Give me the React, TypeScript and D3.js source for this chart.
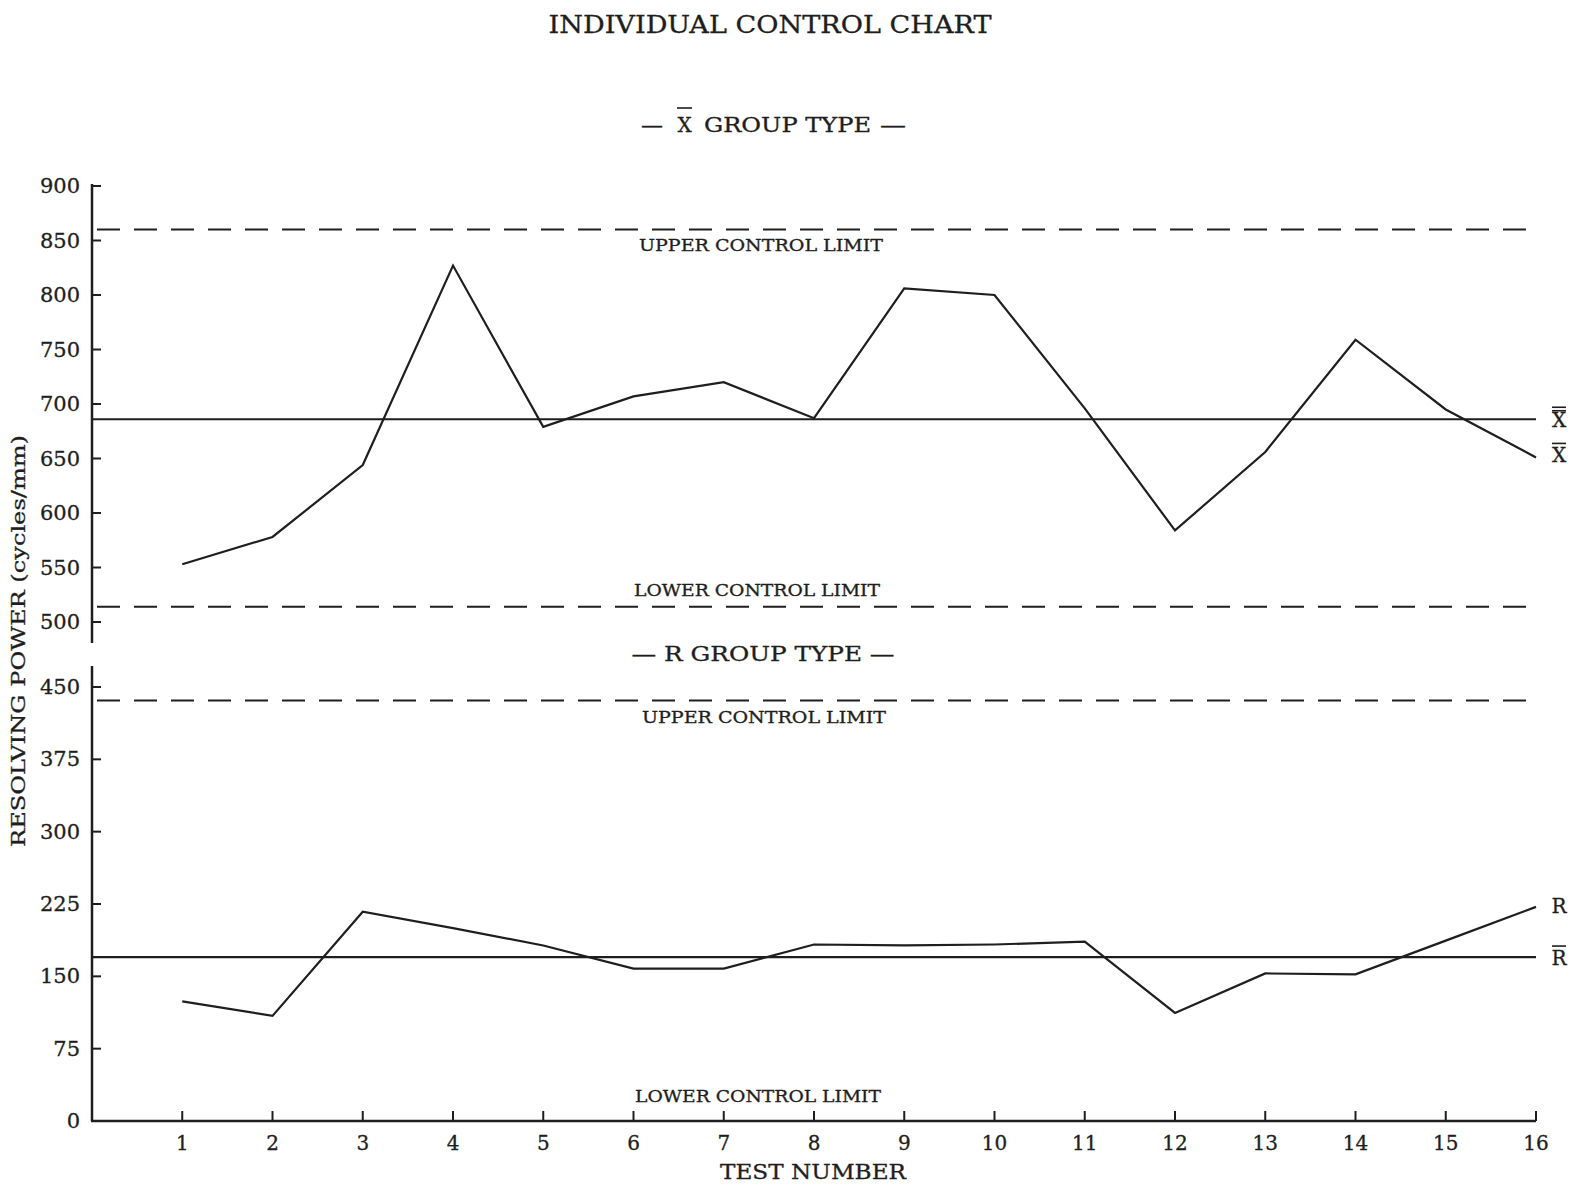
import React from "react";
import * as d3 from "d3";

const tests = [1, 2, 3, 4, 5, 6, 7, 8, 9, 10, 11, 12, 13, 14, 15, 16];
const xbarValues = [553, 578, 644, 827, 679, 707, 720, 687, 806, 800, 696, 584, 656, 759, 695, 651];
const rangeValues = [124, 109, 217, 200, 182, 158, 158, 183, 182, 183, 186, 112, 153, 152, 187, 222];
const xTickValues = [500, 550, 600, 650, 700, 750, 800, 850, 900];
const rTickValues = [0, 75, 150, 225, 300, 375, 450];
const xLimits = { ucl: 860, center: 686, lcl: 514 };
const rLimits = { ucl: 436, center: 170, lcl: 0 };

const FONT = "'DejaVu Serif', 'Liberation Serif', serif";
const INK = "#1e1e1e";

export default function App() {
  const W = 1576;
  const H = 1185;
  const x = d3.scaleLinear().domain([0, 16]).range([92, 1536]);
  const yTop = d3.scaleLinear().domain([500, 900]).range([622, 186]);
  const yBot = d3.scaleLinear().domain([0, 450]).range([1121, 687]);

  const lineTop = d3
    .line<number>()
    .x((_, i) => x(tests[i]))
    .y((d) => yTop(d));
  const lineBot = d3
    .line<number>()
    .x((_, i) => x(tests[i]))
    .y((d) => yBot(d));

  const axisX = x(0);
  const endX = x(16);
  const dash = "23 14";
  const txt = { fill: INK, stroke: INK, strokeWidth: 0.3 };
  const labX = 1559;

  const bar = (x1: number, x2: number, y: number, key: string) => (
    <line key={key} x1={x1} x2={x2} y1={y} y2={y} stroke={INK} strokeWidth={1.6} />
  );

  const yXbb = yTop(xLimits.center) + 8;
  const yXb = yTop(xbarValues[15]) + 5;
  const yR = yBot(rangeValues[15]) + 6;
  const yRb = yBot(rLimits.center) + 8;

  return (
    <svg
      width={W}
      height={H}
      style={{ position: "absolute", left: 0, top: 0, background: "#fff" }}
      fontFamily={FONT}
    >
      <rect x={0} y={0} width={W} height={H} fill="#fff" />
      {/* Titles */}
      <text x={770} y={33} fontSize={24} textAnchor="middle" {...txt} textLength={443} lengthAdjust="spacingAndGlyphs">
        INDIVIDUAL CONTROL CHART
      </text>
      <text x={641} y={132} fontSize={20} {...txt} textLength={22} lengthAdjust="spacingAndGlyphs">—</text>
      <text x={684.5} y={132} fontSize={20} textAnchor="middle" {...txt}>X</text>
      {bar(677, 692, 108, "sb")}
      <text x={704} y={132} fontSize={20} {...txt} textLength={167} lengthAdjust="spacingAndGlyphs">
        GROUP TYPE
      </text>
      <text x={880} y={132} fontSize={20} {...txt} textLength={26} lengthAdjust="spacingAndGlyphs">—</text>

      <text x={763} y={661} fontSize={20} textAnchor="middle" {...txt} textLength={263} lengthAdjust="spacingAndGlyphs">
        — R GROUP TYPE —
      </text>

      {/* Y axis label */}
      <text
        transform={`translate(25,641) rotate(-90)`}
        fontSize={19}
        textAnchor="middle"
        {...txt}
        textLength={412}
        lengthAdjust="spacingAndGlyphs"
      >
        RESOLVING POWER (cycles/mm)
      </text>

      {/* Top panel axis */}
      <line x1={axisX} x2={axisX} y1={184} y2={643} stroke={INK} strokeWidth={2.5} />
      {xTickValues.map((v) => (
        <g key={"tt" + v}>
          <line x1={axisX} x2={axisX + 9} y1={yTop(v)} y2={yTop(v)} stroke={INK} strokeWidth={2} />
          <text x={80} y={yTop(v) + 7} fontSize={21} textAnchor="end" {...txt}>
            {v}
          </text>
        </g>
      ))}

      {/* Bottom panel axis */}
      <line x1={axisX} x2={axisX} y1={666} y2={yBot(0)} stroke={INK} strokeWidth={2.5} />
      {rTickValues.map((v) => (
        <g key={"rt" + v}>
          <line x1={axisX} x2={axisX + 9} y1={yBot(v)} y2={yBot(v)} stroke={INK} strokeWidth={2} />
          <text x={80} y={yBot(v) + 7} fontSize={21} textAnchor="end" {...txt}>
            {v}
          </text>
        </g>
      ))}

      {/* X axis */}
      <line x1={axisX - 1} x2={endX} y1={yBot(0)} y2={yBot(0)} stroke={INK} strokeWidth={2.5} />
      {tests.map((t) => (
        <g key={"xt" + t}>
          <line x1={x(t)} x2={x(t)} y1={yBot(0)} y2={yBot(0) - 10} stroke={INK} strokeWidth={2} />
          <text x={x(t)} y={1150} fontSize={20} textAnchor="middle" {...txt}>
            {t}
          </text>
        </g>
      ))}
      <text x={813} y={1179} fontSize={20} textAnchor="middle" {...txt} textLength={186} lengthAdjust="spacingAndGlyphs">
        TEST NUMBER
      </text>

      {/* Top panel limits */}
      <line x1={axisX + 5} x2={endX} y1={yTop(xLimits.ucl)} y2={yTop(xLimits.ucl)} stroke={INK} strokeWidth={2} strokeDasharray={dash} />
      <line x1={axisX + 5} x2={endX} y1={yTop(xLimits.lcl)} y2={yTop(xLimits.lcl)} stroke={INK} strokeWidth={2} strokeDasharray={dash} />
      <line x1={axisX} x2={endX} y1={yTop(xLimits.center)} y2={yTop(xLimits.center)} stroke={INK} strokeWidth={2.2} />
      <text x={761} y={251} fontSize={16} textAnchor="middle" {...txt} textLength={244} lengthAdjust="spacingAndGlyphs">
        UPPER CONTROL LIMIT
      </text>
      <text x={757} y={596} fontSize={16} textAnchor="middle" {...txt} textLength={246} lengthAdjust="spacingAndGlyphs">
        LOWER CONTROL LIMIT
      </text>
      <path d={lineTop(xbarValues) || ""} fill="none" stroke={INK} strokeWidth={2.2} />
      <text x={labX} y={yXbb} fontSize={20} textAnchor="middle" {...txt}>X</text>
      {bar(labX - 7, labX + 7, yXbb - 20, "xb1")}
      {bar(labX - 7, labX + 7, yXbb - 16.5, "xb2")}
      <text x={labX} y={yXb} fontSize={20} textAnchor="middle" {...txt}>X</text>
      {bar(labX - 7, labX + 7, yXb - 19, "xb3")}

      {/* Bottom panel limits */}
      <line x1={axisX + 5} x2={endX} y1={yBot(rLimits.ucl)} y2={yBot(rLimits.ucl)} stroke={INK} strokeWidth={2} strokeDasharray={dash} />
      <line x1={axisX} x2={endX} y1={yBot(rLimits.center)} y2={yBot(rLimits.center)} stroke={INK} strokeWidth={2.2} />
      <text x={764} y={723} fontSize={16} textAnchor="middle" {...txt} textLength={244} lengthAdjust="spacingAndGlyphs">
        UPPER CONTROL LIMIT
      </text>
      <text x={758} y={1102} fontSize={16} textAnchor="middle" {...txt} textLength={246} lengthAdjust="spacingAndGlyphs">
        LOWER CONTROL LIMIT
      </text>
      <path d={lineBot(rangeValues) || ""} fill="none" stroke={INK} strokeWidth={2.2} />
      <text x={labX} y={yR} fontSize={20} textAnchor="middle" {...txt}>R</text>
      <text x={labX} y={yRb} fontSize={20} textAnchor="middle" {...txt}>R</text>
      {bar(labX - 7, labX + 7, yRb - 19, "rb")}
    </svg>
  );
}
